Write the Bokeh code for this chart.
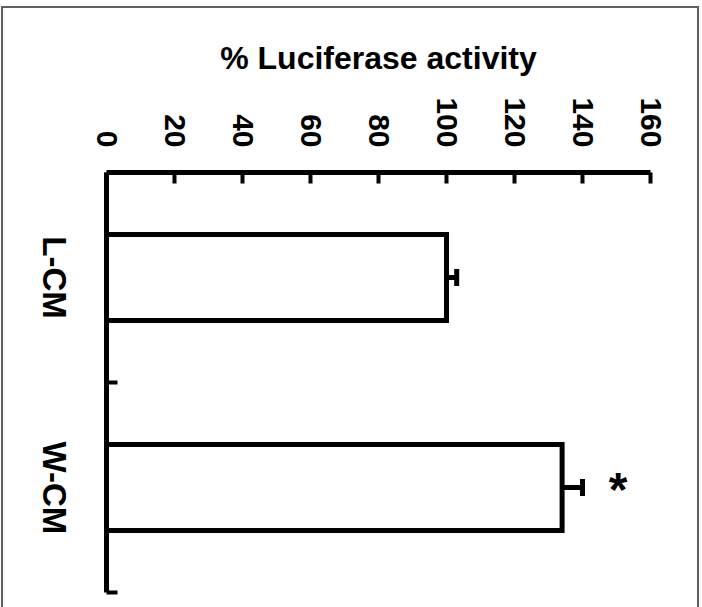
import math
from bokeh.plotting import figure
from bokeh.models import (Range1d, FixedTicker, Whisker, ColumnDataSource,
                          TeeHead)
from bokeh.embed import file_html
from bokeh.resources import INLINE
from bokeh.core.properties import value

# ---- data ----
categories = ["L-CM", "W-CM"]
values = [100, 134]
errors = [3, 6]
significance = ["", "*"]
x_ticks = [0, 20, 40, 60, 80, 100, 120, 140, 160]
x_title = "% Luciferase activity"

pos = [i + 0.5 for i in range(len(categories))]
upper = [v + e for v, e in zip(values, errors)]
sig_gap = 10.5
sig_x = [u + sig_gap for u in upper]

src = ColumnDataSource(dict(pos=pos, values=values, upper=upper,
                            sig=significance, sig_x=sig_x))

FONT = "Liberation Sans"
W, H = 698, 601
B_LEFT, B_RIGHT, B_TOP, B_BOTTOM = 103, 51, 164, 17
CAT_FONT_PX = 33

p = figure(width=W, height=H, output_backend="svg", toolbar_location=None,
           x_range=Range1d(x_ticks[0], x_ticks[-1]),
           y_range=Range1d(len(categories), 0),
           x_axis_location="above",
           min_border_left=B_LEFT, min_border_right=B_RIGHT,
           min_border_top=B_TOP, min_border_bottom=B_BOTTOM)
p.margin = (6, 0, 0, 1)
p.styles = {"border-left": "2px solid #606060",
            "border-top": "2px solid #606060",
            "border-right": "2px solid #606060"}
p.outline_line_color = None
p.grid.visible = False
p.background_fill_color = "white"
p.border_fill_color = "white"

p.hbar(y="pos", left=0, right="values", height=0.41, source=src,
       fill_color="white", line_color="black", line_width=5,
       line_join="miter")

wh = Whisker(source=src, base="pos", lower="values", upper="upper",
             dimension="width", line_width=5, line_color="black",
             upper_head=TeeHead(size=17, line_width=5, line_color="black"),
             lower_head=None)
p.add_layout(wh)

p.text(x="sig_x", y="pos", text="sig", source=src,
       text_font=value(FONT), text_font_style="bold", text_font_size="48px",
       text_align="center", text_baseline="middle", y_offset=2,
       text_color="black")

# top axis
xa = p.xaxis[0]
xa.ticker = FixedTicker(ticks=x_ticks)
xa.axis_line_width = 5
xa.axis_line_color = "black"
xa.major_tick_in = 11
xa.major_tick_out = 0
xa.major_tick_line_width = 4
xa.major_tick_line_color = "black"
xa.minor_tick_line_color = None
xa.major_label_orientation = -math.pi / 2
xa.major_label_standoff = 25
xa.major_label_text_font = FONT
xa.major_label_text_font_style = "bold"
xa.major_label_text_font_size = "30px"
xa.major_label_text_color = "black"
xa.axis_label = x_title
xa.axis_label_text_font = FONT
xa.axis_label_text_font_style = "bold"
xa.axis_label_text_font_size = "32px"
xa.axis_label_text_color = "black"
xa.axis_label_standoff = 18

# left axis: rotated labels are end-anchored by Bokeh, so anchor each one
# half a text-length below its bar centre (text metrics of Liberation Sans Bold)
ADV = {"L": 0.611, "-": 0.333, "C": 0.722, "M": 0.833, "W": 0.944}
frame_px = H - B_TOP - B_BOTTOM
px_per_unit = frame_px / len(categories)
label_ticks = [round(yv + 0.5 * sum(ADV.get(ch, 0.6) for ch in c) * CAT_FONT_PX / px_per_unit, 4)
               for c, yv in zip(categories, pos)]

ya = p.yaxis[0]
ya.ticker = FixedTicker(ticks=label_ticks,
                        minor_ticks=list(range(1, len(categories) + 1)))
ya.major_label_overrides = {t: c for t, c in zip(label_ticks, categories)}
ya.axis_line_width = 5
ya.axis_line_color = "black"
ya.major_tick_in = 0
ya.major_tick_out = 0
ya.major_tick_line_color = None
ya.minor_tick_in = 11
ya.minor_tick_out = 0
ya.minor_tick_line_width = 4
ya.minor_tick_line_color = "black"
ya.major_label_orientation = -math.pi / 2
ya.major_label_standoff = 52
ya.major_label_text_font = FONT
ya.major_label_text_font_style = "bold"
ya.major_label_text_font_size = f"{CAT_FONT_PX}px"
ya.major_label_text_color = "black"

open("out.html", "w").write(file_html(p, INLINE))
